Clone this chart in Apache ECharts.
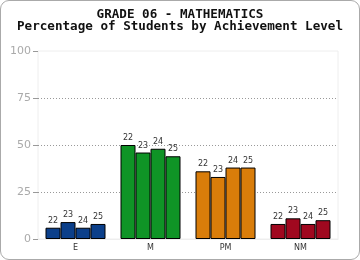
<!DOCTYPE html>
<html><head><meta charset="utf-8">
<script src="https://cdn.jsdelivr.net/npm/echarts@6/dist/echarts.min.js"></script>
<style>
html,body{margin:0;padding:0;background:#fff;}
#c{position:absolute;left:0;top:0;width:358px;height:258px;border:1px solid #aaa;border-radius:9px;overflow:hidden;}
</style></head><body>
<div id="c"></div>
<script>
const categories = ['E', 'M', 'PM', 'NM'];
const years = ['22', '23', '24', '25'];
const values22 = [6, 50, 36, 8];
const values23 = [9, 46, 33, 11];
const values24 = [6, 48, 38, 8];
const values25 = [8, 44, 38, 10];
const categoryColors = ['#0b3f8a', '#0f9426', '#d97d0a', '#a0081f'];
const yTicks = [0, 25, 50, 75, 100];

const seriesValues = [values22, values23, values24, values25];
const chart = echarts.init(document.getElementById('c'), null, {renderer: 'canvas'});
chart.setOption({
  animation: false,
  title: {
    text: 'GRADE 06 - MATHEMATICS\nPercentage of Students by Achievement Level',
    left: 'center', top: 3,
    textStyle: {fontFamily: 'DejaVu Sans Mono', fontWeight: 'bold', fontSize: 12.6, lineHeight: 12, color: '#111'}
  },
  grid: {left: 37, right: 21, top: 50, bottom: 20, show: true, borderColor: '#eee', borderWidth: 1},
  xAxis: {
    type: 'category', data: categories,
    axisLine: {show: true, lineStyle: {color: '#eee'}},
    axisTick: {show: false},
    axisLabel: {fontFamily: 'DejaVu Sans', fontSize: 8, color: '#333', margin: 5}
  },
  yAxis: {
    type: 'value', min: yTicks[0], max: yTicks[yTicks.length - 1], interval: 25,
    axisLine: {show: false},
    axisTick: {show: true, length: 5, lineStyle: {color: '#999'}},
    axisLabel: {fontFamily: 'DejaVu Sans', fontSize: 11, color: '#aaa', margin: 7},
    splitLine: {show: true, lineStyle: {type: [1, 2], color: ['transparent', '#999', '#999', '#999', 'transparent']}}
  },
  series: years.map((y, si) => ({
    type: 'bar', name: y,
    data: seriesValues[si].map((v, ci) => ({value: v, itemStyle: {color: categoryColors[ci]}})),
    barGap: '0%', barCategoryGap: '20%',
    itemStyle: {borderColor: '#000', borderWidth: 1},
    label: {show: true, position: 'top', formatter: '{a}', fontFamily: 'DejaVu Sans', fontSize: 8, color: '#333', distance: 3}
  }))
});
</script></body></html>
